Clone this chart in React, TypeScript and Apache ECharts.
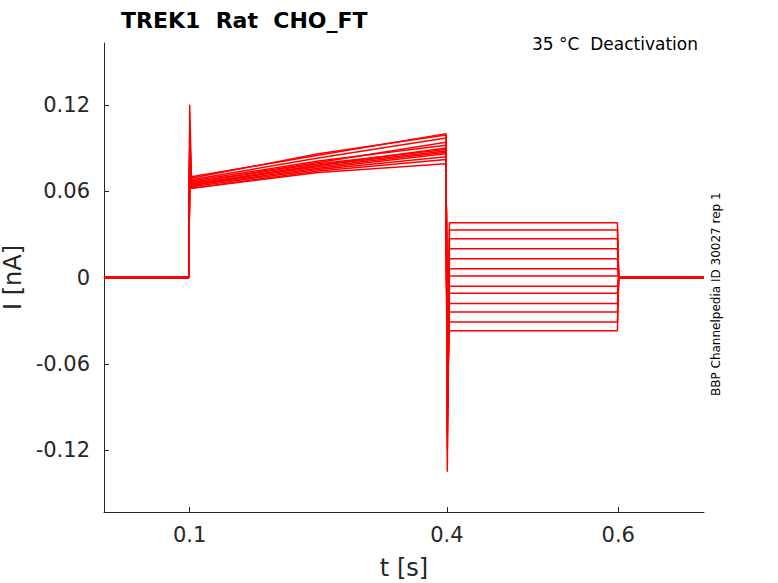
import { useEffect, useRef } from 'react';
import * as echarts from 'echarts';

// per-trace levels (nA)
const tailLevels = [0.038, 0.033, 0.027, 0.02, 0.013, 0.006, 0.001, -0.006, -0.011, -0.018, -0.024, -0.031, -0.037];
const plateauStart = [0.07, 0.066, 0.064, 0.068, 0.062, 0.065, 0.067, 0.063, 0.069, 0.064, 0.066, 0.062, 0.065];
const plateauMid = [0.085, 0.08, 0.078, 0.083, 0.074, 0.077, 0.081, 0.075, 0.086, 0.076, 0.079, 0.073, 0.078];
const plateauEnd = [0.1, 0.094, 0.09, 0.097, 0.082, 0.087, 0.092, 0.084, 0.099, 0.086, 0.089, 0.079, 0.088];
const onPeaks = [0.12, 0.09, 0.085, 0.095, 0.08, 0.082, 0.088, 0.079, 0.1, 0.083, 0.087, 0.078, 0.084];
const offPeaks = [-0.135, -0.1, -0.09, -0.11, -0.08, -0.085, -0.095, -0.075, -0.12, -0.07, -0.088, -0.065, -0.078];
const xTicks = [0.1, 0.4, 0.6];
const yTicks = [-0.12, -0.06, 0, 0.06, 0.12];

export default function App() {
  const ref = useRef<HTMLDivElement>(null);

  useEffect(() => {
    if (!ref.current) return;
    const chart = echarts.init(ref.current, null, { renderer: 'svg' });

    const series = tailLevels.map((lvl, i) => ({
      type: 'line' as const,
      showSymbol: false,
      lineStyle: { color: '#ff0000', width: 1.5 },
      data: [
        [0, 0], [0.099, 0],
        [0.1, onPeaks[i]], [0.102, plateauStart[i]],
        [0.25, plateauMid[i]], [0.399, plateauEnd[i]],
        [0.4005, offPeaks[i]], [0.403, lvl], [0.5, lvl], [0.599, lvl],
        [0.6005, 0], [0.7, 0],
      ],
    }));

    chart.setOption({
      animation: false,
      grid: { left: 104, top: 43, width: 600, height: 469, outerBoundsMode: 'none' },
      title: [
        { text: 'TREK1  Rat  CHO_FT', left: 116, top: 4, textStyle: { fontSize: 22, fontWeight: 'bold', color: '#000', fontFamily: 'DejaVu Sans' } },
        { text: '35 °C  Deactivation', right: 75, top: 30, textStyle: { fontSize: 17, fontWeight: 'normal', color: '#000', fontFamily: 'DejaVu Sans' } },
      ],
      graphic: [
        { type: 'text', x: 710, y: 396, rotation: Math.PI / 2, style: { text: 'BBP Channelpedia ID 30027 rep 1', fontSize: 12, fill: '#000', fontFamily: 'DejaVu Sans' } },
      ],
      xAxis: {
        type: 'value', min: 0, max: 0.7,
        name: 't [s]', nameLocation: 'middle', nameGap: 44,
        nameTextStyle: { fontSize: 24, color: '#262626', fontFamily: 'DejaVu Sans' },
        axisLine: { onZero: false, lineStyle: { color: '#262626' } },
        axisTick: { inside: true, customValues: xTicks, lineStyle: { color: '#262626' } },
        axisLabel: { customValues: xTicks, fontSize: 21, color: '#262626', margin: 12, fontFamily: 'DejaVu Sans' },
        splitLine: { show: false },
      },
      yAxis: {
        type: 'value', min: -0.163, max: 0.163,
        name: 'I [nA]', nameLocation: 'middle', nameGap: 75,
        nameTextStyle: { fontSize: 24, color: '#262626', fontFamily: 'DejaVu Sans' },
        axisLine: { show: true, onZero: false, lineStyle: { color: '#262626' } },
        axisTick: { show: true, inside: true, customValues: yTicks, lineStyle: { color: '#262626' } },
        axisLabel: { customValues: yTicks, fontSize: 21, color: '#262626', margin: 14, fontFamily: 'DejaVu Sans', formatter: (v: number) => String(v) },
        splitLine: { show: false },
      },
      series,
    });

    return () => chart.dispose();
  }, []);

  return <div ref={ref} style={{ position: 'absolute', left: 0, top: 0, width: 778, height: 583 }} />;
}
